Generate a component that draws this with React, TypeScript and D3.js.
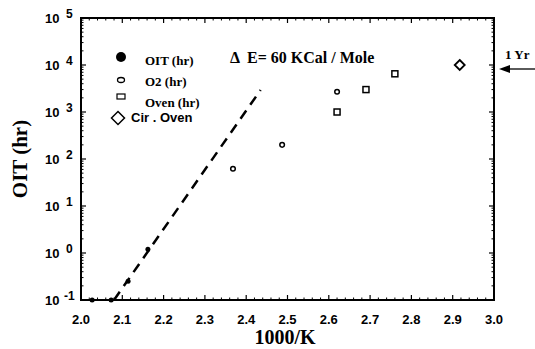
import React from 'react';
import * as d3 from 'd3';

// OIT data (filled circles)
const oitX = [2.027, 2.073, 2.114, 2.162];
const oitY = [0.1, 0.1, 0.25, 1.2];
// O2 (open small circles)
const o2X = [2.368, 2.487, 2.62];
const o2Y = [62, 200, 2700];
// Oven (open squares)
const ovenX = [2.62, 2.69, 2.76];
const ovenY = [1000, 3000, 6500];
// Circulating oven (diamond)
const cirX = [2.917];
const cirY = [10000];
// dashed fit line, dE = 60 kcal/mol
const fitX = [2.08, 2.435];
const fitY = [0.1, 2950];

const xTicks = [2.0, 2.1, 2.2, 2.3, 2.4, 2.5, 2.6, 2.7, 2.8, 2.9, 3.0];
const yExps = [-1, 0, 1, 2, 3, 4, 5];

const W = 535;
const H = 349;
const margin = { top: 18, right: 41, bottom: 49, left: 81 };

const sans = 'Liberation Sans, Arial, sans-serif';
const serif = 'Liberation Serif, Times New Roman, serif';

export default function App() {
  const x = d3.scaleLinear().domain([2.0, 3.0]).range([margin.left, W - margin.right]);
  const y = d3.scaleLog().domain([0.1, 1e5]).range([H - margin.bottom, margin.top]);
  const x0 = margin.left, x1 = W - margin.right, y0 = H - margin.bottom, y1 = margin.top;

  const minorX = d3.range(2.0, 3.0001, 0.02).filter(v => Math.abs(v * 10 - Math.round(v * 10)) > 1e-6);
  const minorY: number[] = [];
  for (let e = -1; e < 5; e++) for (let k = 2; k <= 9; k++) minorY.push(k * Math.pow(10, e));

  const line = d3.line<number>().x((_, i) => x(fitX[i])).y((_, i) => y(fitY[i]));

  const diamond = (cx: number, cy: number, r: number) =>
    `M${cx},${cy - r}L${cx + r},${cy}L${cx},${cy + r}L${cx - r},${cy}Z`;

  return (
    <svg width={W} height={H} style={{ position: 'absolute', left: 0, top: 0, background: '#fff' }}>
      {/* frame */}
      <rect x={x0} y={y1} width={x1 - x0} height={y0 - y1} fill="none" stroke="#000" strokeWidth={2} />

      {/* x ticks, bottom and top */}
      {xTicks.map(t => (
        <g key={'xt' + t}>
          <line x1={x(t)} x2={x(t)} y1={y0} y2={y0 - 5} stroke="#000" strokeWidth={1.2} />
          <line x1={x(t)} x2={x(t)} y1={y1} y2={y1 + 5} stroke="#000" strokeWidth={1.2} />
          <text x={x(t)} y={y0 + 24} textAnchor="middle" fontFamily={sans} fontWeight="bold" fontSize={13}>
            {t.toFixed(1)}
          </text>
        </g>
      ))}
      {minorX.map(t => (
        <g key={'xm' + t}>
          <line x1={x(t)} x2={x(t)} y1={y0} y2={y0 - 2.5} stroke="#000" />
          <line x1={x(t)} x2={x(t)} y1={y1} y2={y1 + 2.5} stroke="#000" />
        </g>
      ))}

      {/* y ticks, left and right */}
      {yExps.map(e => {
        const yy = y(Math.pow(10, e));
        return (
          <g key={'yt' + e}>
            <line x1={x0} x2={x0 + 5} y1={yy} y2={yy} stroke="#000" strokeWidth={1.2} />
            <line x1={x1} x2={x1 - 5} y1={yy} y2={yy} stroke="#000" strokeWidth={1.2} />
            <text x={45} y={yy + 5} fontFamily={sans} fontWeight="bold" fontSize={13}>
              10
              <tspan x={e < 0 ? 64 : 66} y={yy} fontSize={12}>{e}</tspan>
            </text>
          </g>
        );
      })}
      {minorY.map(v => (
        <g key={'ym' + v}>
          <line x1={x0} x2={x0 + 2.5} y1={y(v)} y2={y(v)} stroke="#000" />
          <line x1={x1} x2={x1 - 2.5} y1={y(v)} y2={y(v)} stroke="#000" />
        </g>
      ))}

      {/* fit line */}
      <path d={line(fitX) || ''} fill="none" stroke="#000" strokeWidth={2.5} strokeDasharray="10,7" />

      {/* data */}
      {oitX.map((v, i) => (
        <circle key={'oit' + i} cx={x(v)} cy={y(oitY[i])} r={2.5} fill="#000" />
      ))}
      {o2X.map((v, i) => (
        <circle key={'o2' + i} cx={x(v)} cy={y(o2Y[i])} r={2.3} fill="none" stroke="#000" strokeWidth={1.5} />
      ))}
      {ovenX.map((v, i) => (
        <rect key={'ov' + i} x={x(v) - 3} y={y(ovenY[i]) - 3} width={6} height={6} fill="none" stroke="#000" strokeWidth={1.5} />
      ))}
      {cirX.map((v, i) => (
        <path key={'cir' + i} d={diamond(x(v), y(cirY[i]), 5)} fill="none" stroke="#000" strokeWidth={1.8} />
      ))}

      {/* legend */}
      <circle cx={121} cy={57} r={5} fill="#000" />
      <text x={145} y={65} fontFamily={serif} fontWeight="bold" fontSize={13}>OIT (hr)</text>
      <ellipse cx={121} cy={80} rx={3.5} ry={2.5} fill="none" stroke="#000" strokeWidth={1.3} />
      <text x={145} y={86} fontFamily={serif} fontWeight="bold" fontSize={13}>O2 (hr)</text>
      <rect x={117} y={94} width={8} height={5} fill="none" stroke="#000" strokeWidth={1.2} />
      <text x={145} y={107} fontFamily={serif} fontWeight="bold" fontSize={13}>Oven (hr)</text>
      <path d={diamond(118, 118, 6.5)} fill="none" stroke="#000" strokeWidth={1.5} />
      <text x={131} y={122} fontFamily={sans} fontWeight="bold" fontSize={13}>Cir . Oven</text>

      <text x={230} y={63} fontFamily={serif} fontWeight="bold" fontSize={16}>
        Δ<tspan dx={7}>E= 60 KCal / Mole</tspan>
      </text>

      {/* 1 Yr arrow */}
      <text x={505} y={59} fontFamily={serif} fontWeight="bold" fontSize={13}>1 Yr</text>
      <line x1={535} x2={504} y1={69} y2={69} stroke="#000" strokeWidth={1.3} />
      <path d="M499,69L510,65L510,73Z" fill="#000" />

      {/* axis titles */}
      <text x={285} y={344} textAnchor="middle" fontFamily={serif} fontWeight="bold" fontSize={20}>1000/K</text>
      <text transform={`translate(27,${(y0 + y1) / 2}) rotate(-90)`} textAnchor="middle" fontFamily={serif} fontWeight="bold" fontSize={21}>
        OIT (hr)
      </text>
    </svg>
  );
}
